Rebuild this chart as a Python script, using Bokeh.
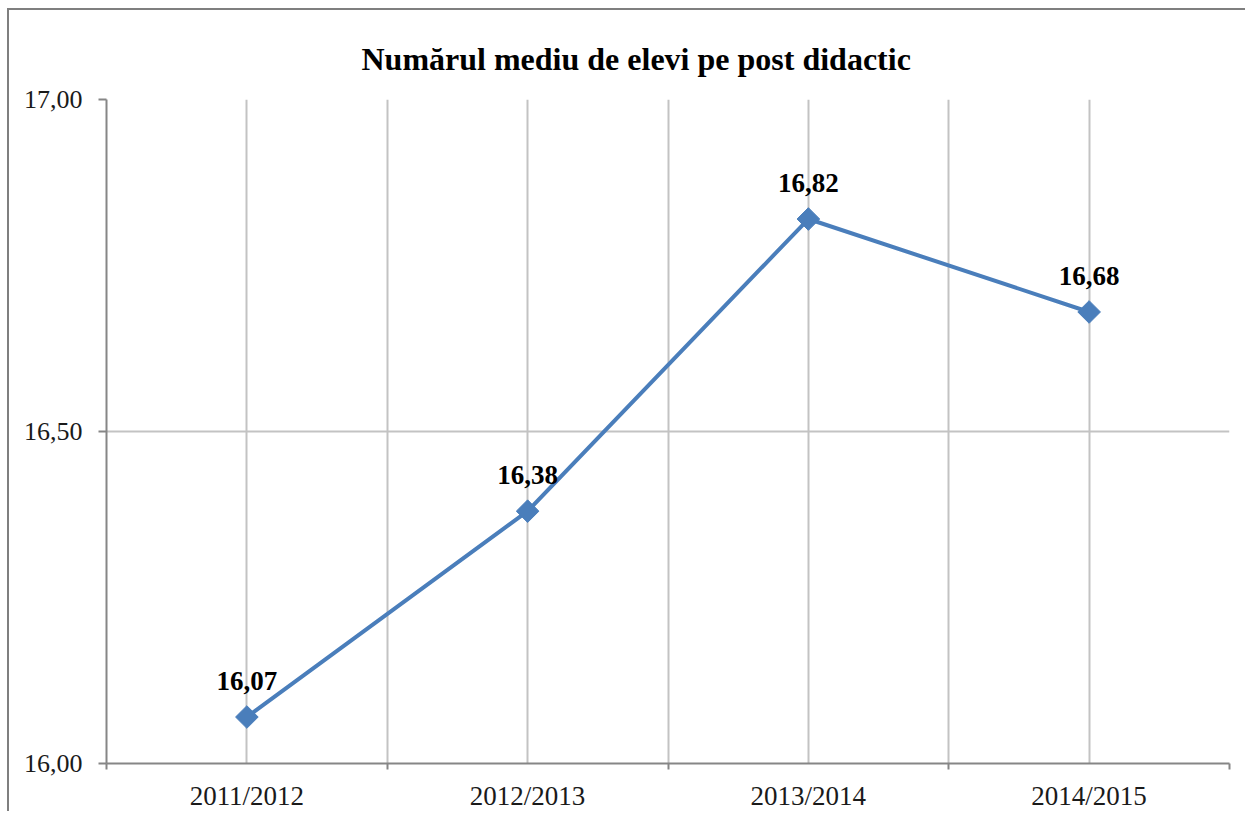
from bokeh.plotting import figure
from bokeh.models import (Range1d, FixedTicker, ColumnDataSource, LabelSet, Title)
from bokeh.embed import file_html
from bokeh.resources import INLINE

title_text = "Numărul mediu de elevi pe post didactic"
categories = ["2011/2012", "2012/2013", "2013/2014", "2014/2015"]
values = [16.07, 16.38, 16.82, 16.68]
value_labels = ["16,07", "16,38", "16,82", "16,68"]
y_ticks = [16.0, 16.5, 17.0]
y_tick_labels = ["16,00", "16,50", "17,00"]

xs = [i + 0.5 for i in range(len(categories))]
src = ColumnDataSource(dict(x=xs, y=values, lab=value_labels))

SERIF = "Liberation Serif"
GRID = "#c3c3c3"
AXIS = "#868686"
BLUE = "#4a7ebb"

p = figure(width=1238, height=803, output_backend="svg", toolbar_location=None,
           x_range=Range1d(0, len(categories)), y_range=Range1d(16, 17),
           min_border_left=97, min_border_right=18, min_border_top=89,
           min_border_bottom=49,
           styles={"border-left": "2px solid #7f7f7f", "border-top": "2px solid #7f7f7f",
                   "margin-left": "7px", "margin-top": "8px"})
p.outline_line_color = None

p.title = Title(text=title_text, align="left", offset=255,
                text_font=SERIF, text_font_style="bold", text_font_size="32px",
                text_color="#000000", standoff=46, text_line_height=0.6)

# x axis
xt = FixedTicker(ticks=xs, minor_ticks=list(range(len(categories) + 1)))
p.xaxis.ticker = xt
p.xaxis.major_label_overrides = {x: c for x, c in zip(xs, categories)}
p.xaxis.major_tick_out = 0
p.xaxis.major_tick_in = 0
p.xaxis.minor_tick_out = 6
p.xaxis.minor_tick_in = 0
p.xaxis.minor_tick_line_color = AXIS
p.xaxis.minor_tick_line_width = 2
p.xaxis.axis_line_color = AXIS
p.xaxis.axis_line_width = 2
p.xaxis.major_label_standoff = 11
p.xaxis.major_label_text_font = SERIF
p.xaxis.major_label_text_font_size = "27px"
p.xaxis.major_label_text_color = "#1a1a1a"

# y axis
p.yaxis.ticker = FixedTicker(ticks=y_ticks, minor_ticks=[])
p.yaxis.major_label_overrides = {t: l for t, l in zip(y_ticks, y_tick_labels)}
p.yaxis.major_tick_out = 8
p.yaxis.major_tick_in = 0
p.yaxis.major_tick_line_color = AXIS
p.yaxis.major_tick_line_width = 2
p.yaxis.axis_line_color = AXIS
p.yaxis.axis_line_width = 2
p.yaxis.major_label_standoff = 16
p.yaxis.major_label_text_font = SERIF
p.yaxis.major_label_text_font_size = "26px"
p.yaxis.major_label_text_color = "#1a1a1a"

# grids
p.xgrid.grid_line_color = GRID
p.xgrid.grid_line_width = 2
p.xgrid.minor_grid_line_color = GRID
p.xgrid.minor_grid_line_width = 2
p.ygrid.grid_line_color = GRID
p.ygrid.grid_line_width = 2

# series
p.line("x", "y", source=src, line_color=BLUE, line_width=4)
p.scatter("x", "y", source=src, marker="square", angle=0.785398, size=16,
          fill_color=BLUE, line_color=BLUE)

labels = LabelSet(x="x", y="y", text="lab", source=src, text_align="center",
                  text_baseline="alphabetic", y_offset=27,
                  text_font=SERIF, text_font_style="bold",
                  text_font_size="27px", text_color="#000000")
p.add_layout(labels)

open("out.html", "w").write(file_html(p, INLINE))
